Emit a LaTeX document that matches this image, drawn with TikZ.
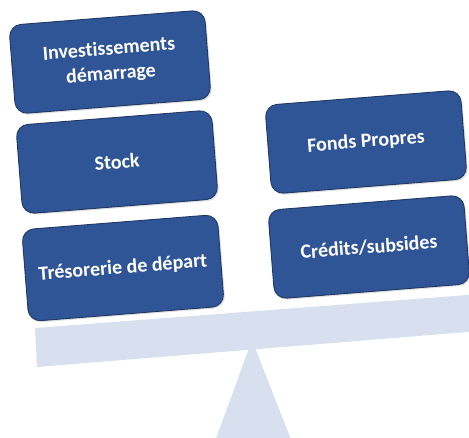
\documentclass[tikz,border=0pt]{standalone}
\usepackage{fontspec}
\setmainfont{Carlito}[Ligatures=CommonOff]
\usetikzlibrary{shadows}
\definecolor{boxblue}{HTML}{2F5597}
\definecolor{boxedge}{HTML}{1F3864}
\definecolor{beamblue}{HTML}{D8E0F0}
\begin{document}
\begin{tikzpicture}[x=1pt,y=-1pt,
  blockbox/.style={rectangle, rounded corners=12pt, fill=boxblue, draw=boxedge,
    line width=0.9pt, minimum width=196pt, minimum height=89pt, align=center,
    text=white, font=\fontsize{20}{25}\selectfont\bfseries, rotate=4.5,
    drop shadow={opacity=0.25, shadow xshift=1.5pt, shadow yshift=-1.5pt}},
  beamshape/.style={fill=beamblue, draw=none}]
\useasboundingbox (0,0) rectangle (469,437);
\clip (0,0) rectangle (469,437);
% fulcrum
\fill[beamblue] (252,340) -- (211,452) -- (296,452) -- cycle;
% beam
\fill[beamblue] (35,328) -- (480,294) -- (480,331) -- (37,367) -- cycle;
% left stack
\node[blockbox] (inv) at (110,62) {Investissements\\démarrage};
\node[blockbox] (stock) at (117,162) {Stock};
\node[blockbox, minimum height=92pt] (treso) at (123,268) {Trésorerie de départ};
% right stack
\node[blockbox] (fonds) at (366,142) {Fonds Propres};
\node[blockbox] (credits) at (369,247) {Crédits/subsides};
\end{tikzpicture}
\end{document}
